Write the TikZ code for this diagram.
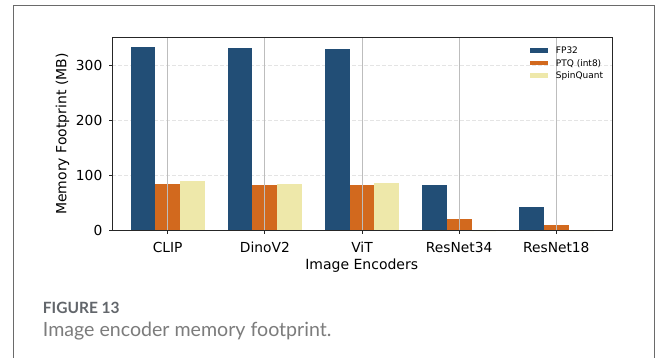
\documentclass[tikz,border=0pt]{standalone}
\usepackage{fontspec}
\setmainfont{DejaVu Sans}
\newfontfamily\capfont{Lato}
\definecolor{fpblue}{HTML}{224E76}
\definecolor{ptqorange}{HTML}{D2691E}
\definecolor{spinyellow}{HTML}{EEE8AA}
\definecolor{framegray}{HTML}{6A6A6A}
\definecolor{hgrid}{HTML}{E4E4E4}
\definecolor{vgrid}{HTML}{BDBDBD}
\definecolor{capdark}{HTML}{62666B}
\definecolor{caplight}{HTML}{7C7C7C}
\tikzset{
  hgridline/.style={draw=hgrid, line width=0.8pt, dash pattern=on 4pt off 2pt},
  vgridline/.style={draw=vgrid, line width=1pt},
  axisframe/.style={draw=black!85, line width=1pt},
  ticklabel/.style={inner sep=0pt, font=\fontsize{13.8}{16}\selectfont},
  axislabel/.style={inner sep=0pt, font=\fontsize{14}{16}\selectfont},
  legendtext/.style={inner sep=0pt, anchor=base west, font=\fontsize{9}{11}\selectfont},
}
\begin{document}
\begin{tikzpicture}[x=1pt,y=-1pt]
\useasboundingbox (0,0) rectangle (658,358);
\fill[white] (0,0) rectangle (658,358);
% outer panel border
\draw[framegray, line width=1pt] (13,362) -- (13,5.3) -- (654.3,5.3) -- (654.3,362);

% axes geometry: value v sits at y = 230.5 - 0.55 v
\coordinate (axNW) at (112.3,37.3);
\coordinate (axSE) at (612,230.5);

% horizontal dashed grid
\foreach \v in {100,200,300}
  \draw[hgridline] (112.3,{230.5-0.55*\v}) -- (612,{230.5-0.55*\v});

% bars: name / FP32 / PTQ (int8) / SpinQuant
\foreach \name/\fp/\pt/\sq [count=\i from 0] in
  {CLIP/334/84.5/89.5, DinoV2/331/83/85, ViT/330/83/87,
   ResNet34/82/20.5/0, ResNet18/43/10/0}{
  \pgfmathsetmacro{\c}{167.7+97.15*\i}
  \fill[fpblue] ({\c-37.2},230.5) rectangle ({\c-12.4},{230.5-0.55*\fp});
  \fill[ptqorange] ({\c-12.4},230.5) rectangle ({\c+12.4},{230.5-0.55*\pt});
  \fill[spinyellow] ({\c+12.4},230.5) rectangle ({\c+37.2},{230.5-0.55*\sq});
  \draw[vgridline] (\c,37.3) -- (\c,230.5);
  \draw[black!85, line width=0.8pt] (\c,230.5) -- (\c,234);
  \node[ticklabel, anchor=base] (xl\i) at (\c,252) {\name};
}

% axes frame
\draw[axisframe] (axNW) rectangle (axSE);

% y ticks and labels
\foreach \v in {0,100,200,300}{
  \draw[black!85, line width=0.8pt] (112.3,{230.5-0.55*\v}) -- (108.8,{230.5-0.55*\v});
  \node[ticklabel, anchor=east] (yl\v) at (102.5,{230.5-0.55*\v}) {\v};
}

% axis titles
\node[axislabel] (xtitle) at (361.7,266) {Image Encoders};
\node[axislabel, rotate=90] (ytitle) at (62.5,134) {Memory Footprint (MB)};

% legend
\foreach \col/\lab [count=\j from 0] in
  {fpblue/FP32, ptqorange/PTQ (int8), spinyellow/SpinQuant}{
  \pgfmathsetmacro{\ly}{50.3+12.7*\j}
  \fill[\col] (530,{\ly-2.4}) rectangle (548.3,{\ly+2.4});
  \node[legendtext] (leg\j) at (555.7,{\ly+3.3}) {\lab};
}

% caption
\node[inner sep=0pt, anchor=base west, text=capdark,
      font=\capfont\bfseries\fontsize{15.5}{18}\selectfont] (figno) at (42.7,313.3) {FIGURE 13};
\node[inner sep=0pt, anchor=base west, text=caplight,
      font=\capfont\fontsize{19.6}{23}\selectfont] (figcap) at (42.7,336.7) {Image encoder memory footprint.};
\end{tikzpicture}
\end{document}
